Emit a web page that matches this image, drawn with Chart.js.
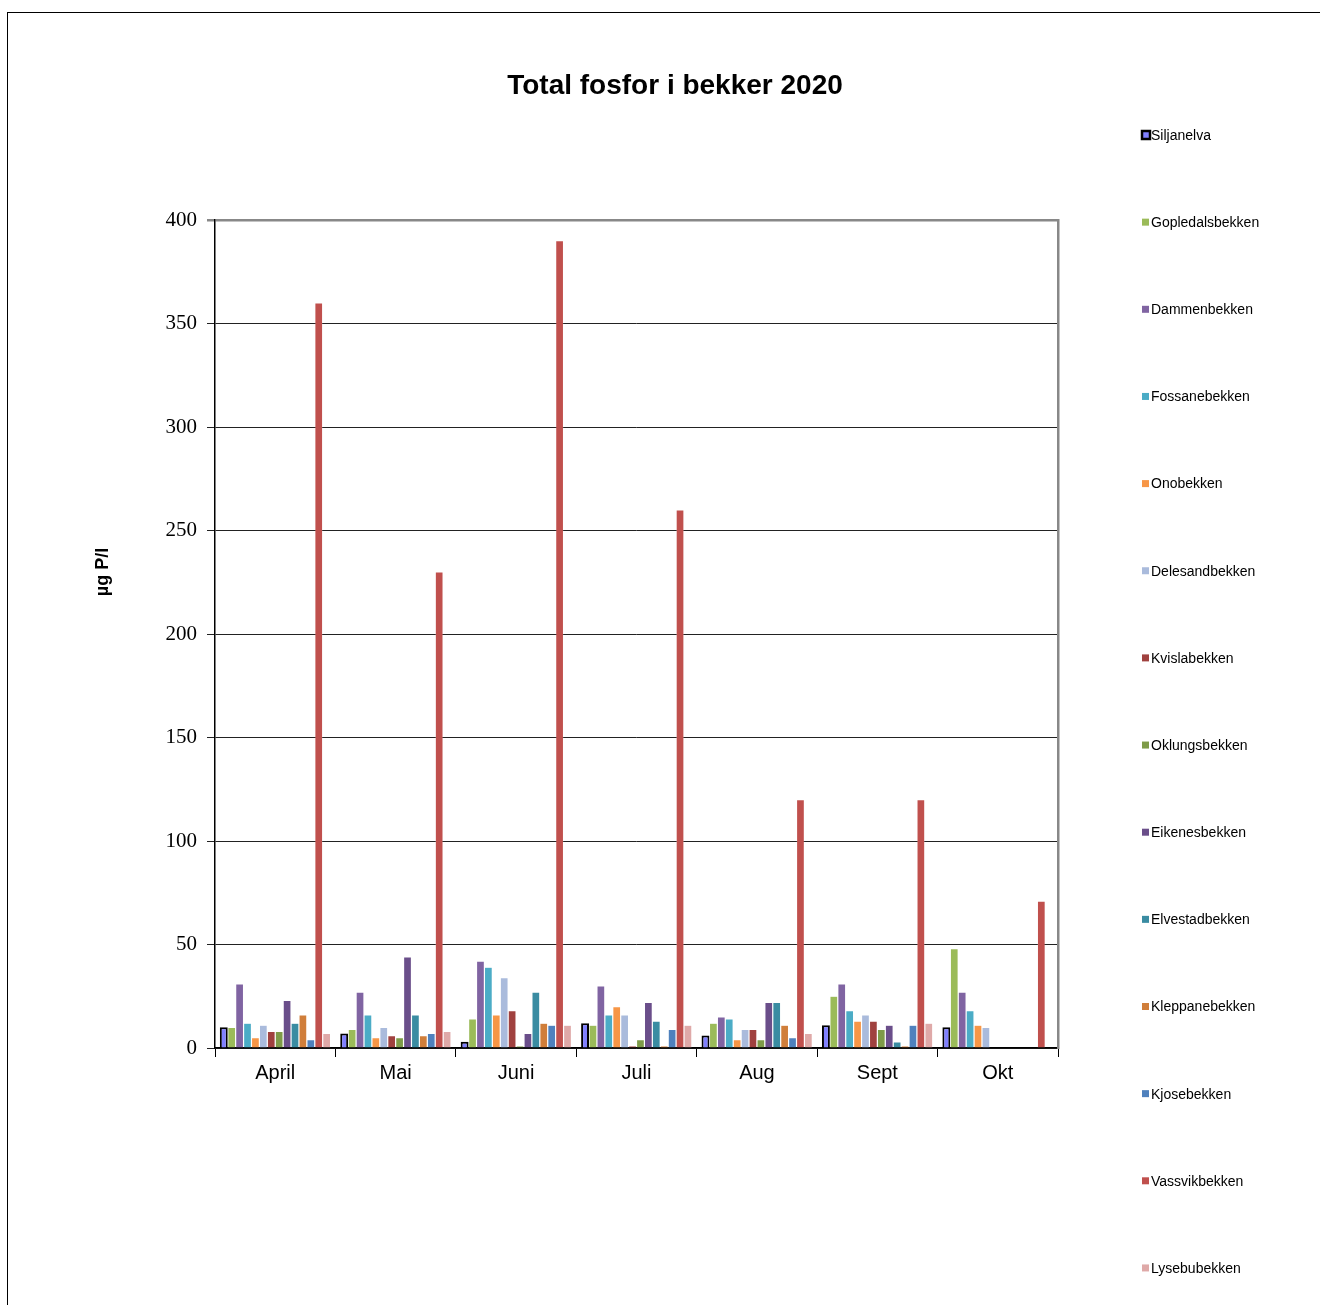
<!DOCTYPE html>
<html lang="no">
<head>
    <meta charset="UTF-8">
    <title>Total fosfor i bekker 2020</title>
    <style>
        html, body {
            margin: 0;
            padding: 0;
            background: #fff;
            overflow: hidden;
        }

        #frame {
            position: absolute;
            left: 7px;
            top: 12px;
            width: 1400px;
            height: 1400px;
            border: 1px solid #000;
        }

        #wrap {
            position: absolute;
            left: 0;
            top: 0;
            width: 1320px;
            height: 1305px;
        }
    </style>
    <script src="https://cdn.jsdelivr.net/npm/chart.js"></script>
</head>
<body>
    <div id="frame"></div>
    <div id="wrap"><canvas id="chart"></canvas></div>

    <script>
        const months = ["April", "Mai", "Juni", "Juli", "Aug", "Sept", "Okt"];
        const yTicks = [0, 50, 100, 150, 200, 250, 300, 350, 400];

        const siljanelva     = [10, 7, 3, 12, 6, 11, 10];
        const gopledalsbekken = [10, 9, 14, 11, 12, 25, 48];
        const dammenbekken   = [31, 27, 42, 30, 15, 31, 27];
        const fossanebekken  = [12, 16, 39, 16, 14, 18, 18];
        const onobekken      = [5, 5, 16, 20, 4, 13, 11];
        const delesandbekken = [11, 10, 34, 16, 9, 16, 10];
        const kvislabekken   = [8, 6, 18, 1, 9, 13, null];
        const oklungsbekken  = [8, 5, 1, 4, 4, 9, null];
        const eikenesbekken  = [23, 44, 7, 22, 22, 11, null];
        const elvestadbekken = [12, 16, 27, 13, 22, 3, null];
        const kleppanebekken = [16, 6, 12, 1, 11, 1, null];
        const kjosebekken    = [4, 7, 11, 9, 5, 11, null];
        const vassvikbekken  = [360, 230, 390, 260, 120, 120, 71];
        const lysebubekken   = [7, 8, 11, 11, 7, 12, null];

        const seriesNames = ["Siljanelva", "Gopledalsbekken", "Dammenbekken", "Fossanebekken", "Onobekken",
            "Delesandbekken", "Kvislabekken", "Oklungsbekken", "Eikenesbekken", "Elvestadbekken",
            "Kleppanebekken", "Kjosebekken", "Vassvikbekken", "Lysebubekken"];
        const seriesValues = [siljanelva, gopledalsbekken, dammenbekken, fossanebekken, onobekken,
            delesandbekken, kvislabekken, oklungsbekken, eikenesbekken, elvestadbekken,
            kleppanebekken, kjosebekken, vassvikbekken, lysebubekken];
        const seriesColors = ["#8080ff", "#9bbb59", "#8064a2", "#4bacc6", "#f79646",
            "#aabbdc", "#a0413f", "#7e9b48", "#6a4e8a", "#3a8ca2",
            "#d07e3a", "#4f81bd", "#c0504d", "#dfa9a8"];

        const sansFont = "'Liberation Sans', Arial, sans-serif";
        const serifFont = "'Liberation Serif', 'Times New Roman', serif";

        // legend + rotated axis title drawn by hand so they land where the original has them
        const sideTexts = {
            id: "sideTexts",
            afterDraw(chart) {
                const ctx = chart.ctx;
                ctx.save();

                ctx.translate(103, 572);
                ctx.rotate(-Math.PI / 2);
                ctx.font = "bold 18px " + sansFont;
                ctx.fillStyle = "#000";
                ctx.textAlign = "center";
                ctx.textBaseline = "middle";
                ctx.fillText("µg P/l", 0, 0);
                ctx.setTransform(1, 0, 0, 1, 0, 0);

                ctx.font = "14px " + sansFont;
                ctx.textAlign = "left";
                chart.data.datasets.forEach((ds, i) => {
                    const y = 135 + i * 87.15;
                    if (i === 0) {
                        ctx.fillStyle = ds.backgroundColor;
                        ctx.fillRect(1142, y - 4, 8, 8);
                        ctx.strokeStyle = "#000";
                        ctx.lineWidth = 2.5;
                        ctx.strokeRect(1142, y - 4, 8, 8);
                    } else {
                        ctx.fillStyle = ds.backgroundColor;
                        ctx.fillRect(1142, y - 3.5, 7, 7);
                    }
                    ctx.fillStyle = "#000";
                    ctx.fillText(ds.label, 1151, y + 1);
                });
                ctx.restore();
            }
        };

        const datasets = seriesNames.map((name, i) => ({
            label: name,
            data: seriesValues[i],
            backgroundColor: seriesColors[i],
            borderColor: i === 0 ? "#000" : "rgba(255,255,255,0.35)",
            borderWidth: i === 0 ? 2 : 0.6,
            categoryPercentage: 0.92,
            barPercentage: 1.0
        }));

        new Chart(document.getElementById("chart"), {
            type: "bar",
            data: { labels: months, datasets: datasets },
            plugins: [sideTexts],
            options: {
                responsive: true,
                maintainAspectRatio: false,
                animation: false,
                layout: { padding: { left: 85, right: 55, top: 0, bottom: 0 } },
                plugins: {
                    legend: { display: false },
                    tooltip: { enabled: false },
                    title: {
                        display: true,
                        text: "Total fosfor i bekker 2020",
                        color: "#000",
                        font: { family: sansFont, size: 28, weight: "bold" },
                        padding: { top: 69, bottom: 117.4 }
                    }
                },
                scales: {
                    x: {
                        grid: {
                            offset: true,
                            drawOnChartArea: false,
                            drawTicks: true,
                            tickLength: 9,
                            color: "#000"
                        },
                        border: { display: true, color: "#000", width: 1.5 },
                        ticks: {
                            color: "#000",
                            padding: 4,
                            font: { family: sansFont, size: 20 }
                        },
                        afterFit: (scale) => { scale.height = 257; }
                    },
                    y: {
                        min: 0,
                        max: 400,
                        afterBuildTicks: (scale) => { scale.ticks = yTicks.map(v => ({ value: v })); },
                        grid: {
                            color: (c) => c.tick && c.tick.value === 400 ? "#888" : "#222",
                            lineWidth: (c) => c.tick && c.tick.value === 400 ? 2.5 : 1,
                            tickLength: 8,
                            drawTicks: true
                        },
                        border: { display: true, color: "#000", width: 1.5 },
                        ticks: {
                            color: "#000",
                            padding: 10,
                            font: { family: serifFont, size: 21 }
                        },
                        afterFit: (scale) => { scale.width = 130; }
                    },
                    yRight: {
                        position: "right",
                        min: 0,
                        max: 400,
                        grid: { display: false },
                        ticks: { display: false },
                        border: { display: true, color: "#888", width: 2.5 },
                        afterFit: (scale) => { scale.width = 207; }
                    }
                }
            }
        });
    </script>
</body>
</html>
